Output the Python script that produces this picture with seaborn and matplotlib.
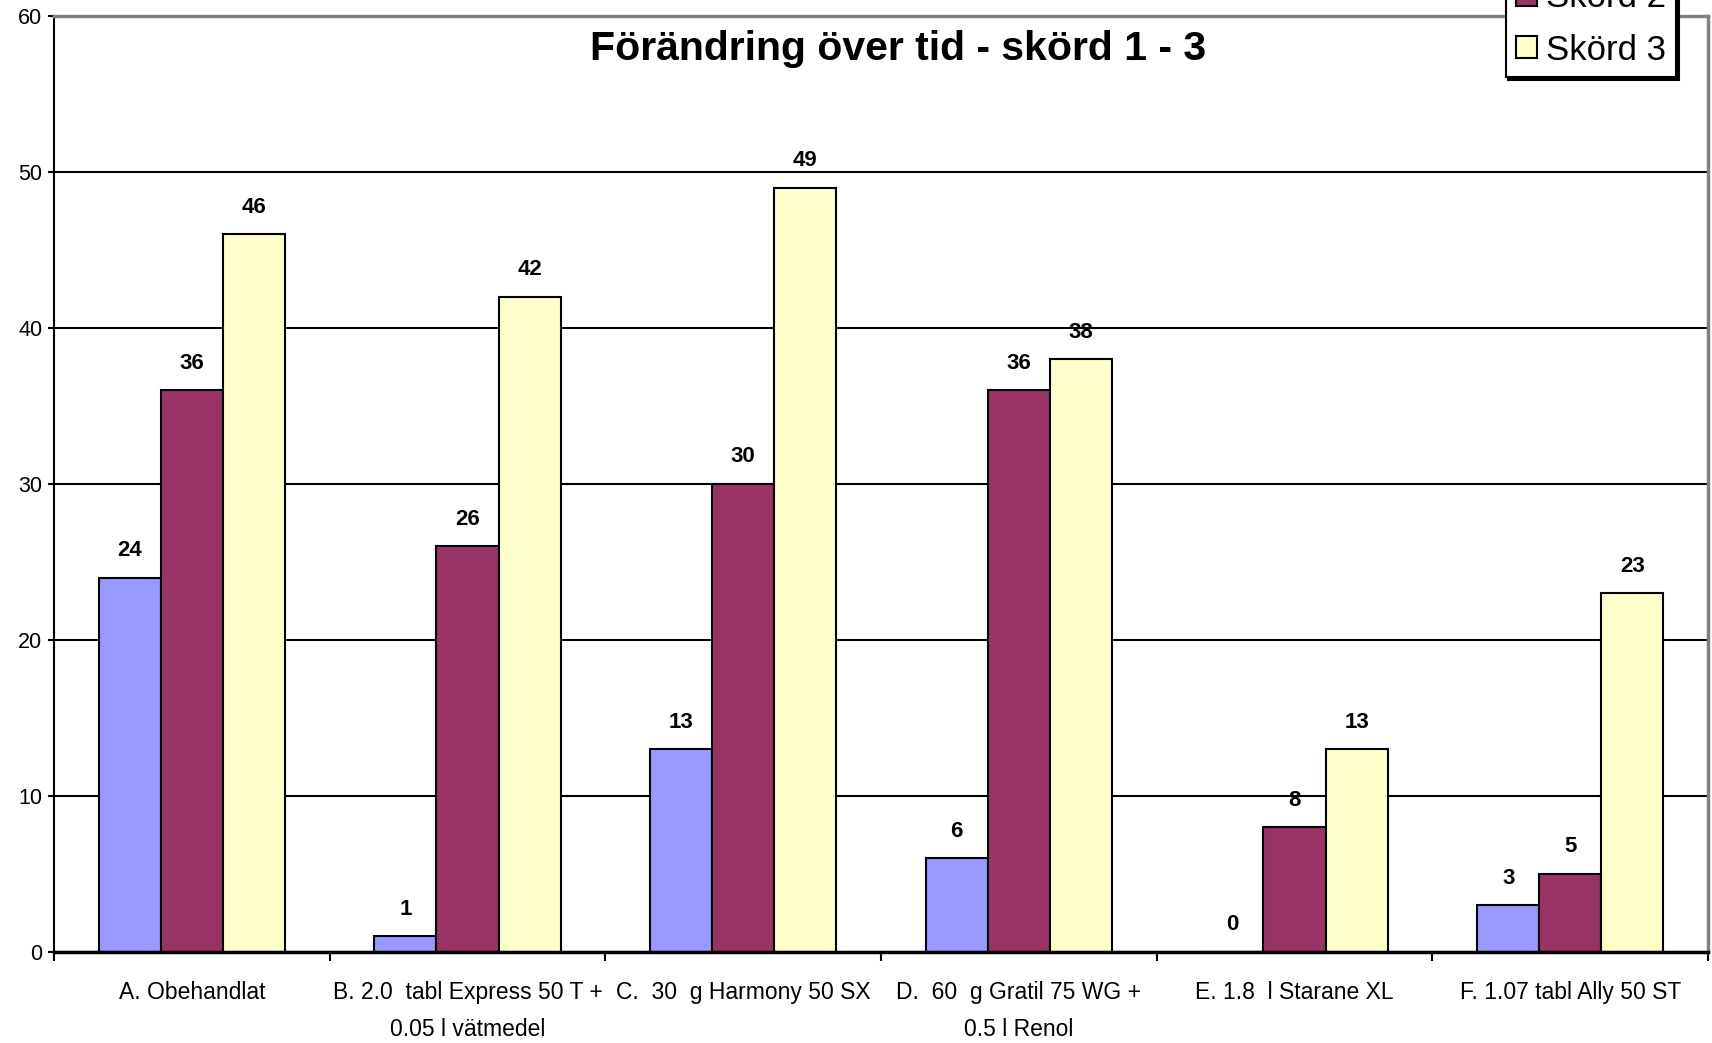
import numpy as np
import pandas as pd
import matplotlib
matplotlib.use('Agg')
import matplotlib.pyplot as plt
import seaborn as sns
from matplotlib.patches import Patch

# ── Data ────────────────────────────────────────────────────
behandlingar = ['A. Obehandlat',
                'B. 2.0  tabl Express 50 T +\n0.05 l vätmedel',
                'C.  30  g Harmony 50 SX',
                'D.  60  g Gratil 75 WG +\n0.5 l Renol',
                'E. 1.8  l Starane XL',
                'F. 1.07 tabl Ally 50 ST']
serier = ['Skörd 1', 'Skörd 2', 'Skörd 3']
skord1 = [24, 1, 13, 6, 0, 3]
skord2 = [36, 26, 30, 36, 8, 5]
skord3 = [46, 42, 49, 38, 13, 23]
farger = ['#9999FF', '#993366', '#FFFFCC']
yticks = [0, 10, 20, 30, 40, 50, 60]

df = pd.DataFrame({
    'behandling': behandlingar * 3,
    'skord': [s for s in serier for _ in behandlingar],
    'varde': skord1 + skord2 + skord3,
})

# ── Style ───────────────────────────────────────────────────
sns.set_style('white')
plt.rcParams['font.family'] = ['Liberation Sans', 'DejaVu Sans']
plt.rcParams['text.color'] = 'black'
plt.rcParams['xtick.color'] = 'black'
plt.rcParams['ytick.color'] = 'black'

W, H = 1712, 1043
fig = plt.figure(figsize=(W / 100, H / 100), dpi=100)
ax = fig.add_axes([54 / W, 1 - 952 / H, (1708 - 54) / W, (952 - 16) / H])

sns.barplot(data=df, x='behandling', y='varde', hue='skord',
            palette=farger, saturation=1, width=0.675,
            edgecolor='black', linewidth=1.5, legend=False, ax=ax)

for cont in ax.containers:
    ax.bar_label(cont, padding=12, fontsize=16, fontweight='bold',
                 color='black')

# axes
ax.set_xlim(-0.5, 5.5)
ax.set_ylim(0, 60)
ax.set_yticks(yticks)
ax.set_xlabel('')
ax.set_ylabel('')
ax.yaxis.grid(True, color='black', linewidth=1.5)
ax.set_axisbelow(True)

ax.set_xticks(np.arange(-0.5, 6, 1), labels=[''] * 7)
ax.set_xticks(range(6), labels=behandlingar, minor=True)
ax.tick_params(axis='x', which='major', direction='out', length=6.5,
               width=1.5, color='black', bottom=True)
ax.tick_params(axis='x', which='minor', length=0, pad=21,
               labelsize=16.5)
for t in ax.get_xticklabels(minor=True):
    t.set_linespacing(1.75)
ax.tick_params(axis='y', direction='out', length=4.5, width=1.5,
               color='black', left=True, labelsize=15.5, pad=4)

ax.spines['left'].set_color('black')
ax.spines['left'].set_linewidth(1.5)
ax.spines['bottom'].set_color('black')
ax.spines['bottom'].set_linewidth(2.5)
ax.spines['top'].set_color('#808080')
ax.spines['top'].set_linewidth(2.5)
ax.spines['right'].set_color('#808080')
ax.spines['right'].set_linewidth(2.5)

# title
fig.text(898 / W, 1 - 60 / H, 'Förändring över tid - skörd 1 - 3',
         ha='center', va='baseline', fontsize=29.5, fontweight='bold')

# legend (cut off at the top like the original)
handles = [Patch(facecolor=c, edgecolor='black', linewidth=1.5) for c in farger]
leg = fig.legend(handles, serier, loc='lower right',
                 bbox_to_anchor=(1676 / W, 1 - 77 / H),
                 fontsize=25, frameon=True, fancybox=False,
                 edgecolor='black', framealpha=1,
                 shadow={'color': 'black', 'alpha': 1},
                 handlelength=0.6, handleheight=0.6, handletextpad=0.25,
                 labelspacing=0.55, borderpad=0.3, borderaxespad=0)
leg.get_frame().set_linewidth(1.5)

fig.savefig('out.png', dpi=100)
